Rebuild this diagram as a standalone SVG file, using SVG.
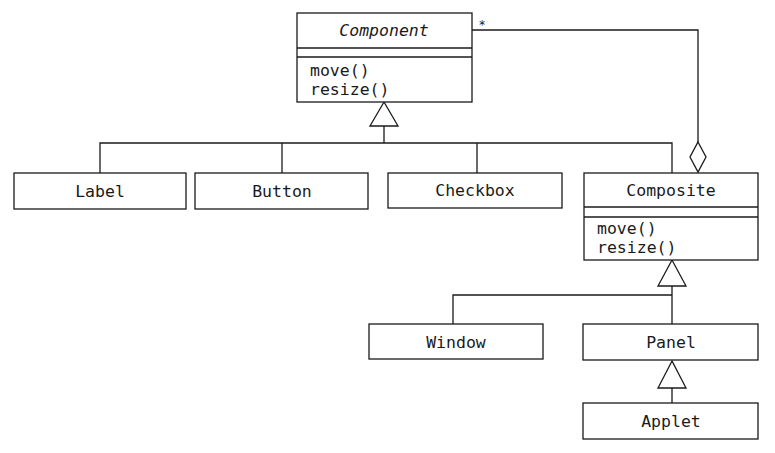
<svg xmlns="http://www.w3.org/2000/svg" width="775" height="453" viewBox="0 0 775 453">
<style>
.box{fill:#fff;stroke:#1a1a1a;stroke-width:1.3}
.ln{fill:none;stroke:#1a1a1a;stroke-width:1.3}
.hd{fill:#fff;stroke:#1a1a1a;stroke-width:1.3}
text{font-family:"DejaVu Sans Mono","Liberation Mono",monospace;font-size:16.5px;fill:#1a1a1a}
.c{text-anchor:middle}
.it{font-style:italic}
</style>
<rect width="775" height="453" fill="#fff"/>
<g id="connectors">
  <polyline class="ln" points="384,126 384,143"/>
  <polyline class="ln" points="100,173 100,143 672,143 672,173"/>
  <line class="ln" x1="282" y1="143" x2="282" y2="173"/>
  <line class="ln" x1="477" y1="143" x2="477" y2="173"/>
  <polygon class="hd" points="384,102 370,126 398,126"/>
  <polyline class="ln" points="472,30 698,30 698,142"/>
  <polygon class="hd" points="698,142 706,157 698,172 690,157"/>
  <text x="482" y="29" class="c" style="font-size:12px">*</text>
  <polygon class="hd" points="672,260 658,286 686,286"/>
  <polyline class="ln" points="672,286 672,324"/>
  <polyline class="ln" points="453,324 453,295 672,295"/>
  <polygon class="hd" points="672,361 658,388 686,388"/>
  <line class="ln" x1="672" y1="388" x2="672" y2="403"/>
</g>
<g id="Component">
  <rect class="box" x="297" y="13" width="175" height="89"/>
  <line class="ln" x1="297" y1="48" x2="472" y2="48"/>
  <line class="ln" x1="297" y1="57" x2="472" y2="57"/>
  <text x="384" y="36" class="c it">Component</text>
  <text x="310" y="76">move()</text>
  <text x="310" y="95">resize()</text>
</g>
<g id="Label">
  <rect class="box" x="14" y="173" width="172" height="36"/>
  <text x="100" y="197" class="c">Label</text>
</g>
<g id="Button">
  <rect class="box" x="195" y="173" width="173" height="36"/>
  <text x="282" y="197" class="c">Button</text>
</g>
<g id="Checkbox">
  <rect class="box" x="388" y="173" width="174" height="35"/>
  <text x="475" y="196" class="c">Checkbox</text>
</g>
<g id="Composite">
  <rect class="box" x="584" y="173" width="174" height="87"/>
  <line class="ln" x1="584" y1="207" x2="758" y2="207"/>
  <line class="ln" x1="584" y1="217" x2="758" y2="217"/>
  <text x="671" y="196" class="c">Composite</text>
  <text x="597" y="234">move()</text>
  <text x="597" y="253">resize()</text>
</g>
<g id="Window">
  <rect class="box" x="369" y="324" width="174" height="35"/>
  <text x="456" y="348" class="c">Window</text>
</g>
<g id="Panel">
  <rect class="box" x="583" y="324" width="175" height="36"/>
  <text x="671" y="348" class="c">Panel</text>
</g>
<g id="Applet">
  <rect class="box" x="583" y="403" width="175" height="36"/>
  <text x="671" y="427" class="c">Applet</text>
</g>
</svg>
